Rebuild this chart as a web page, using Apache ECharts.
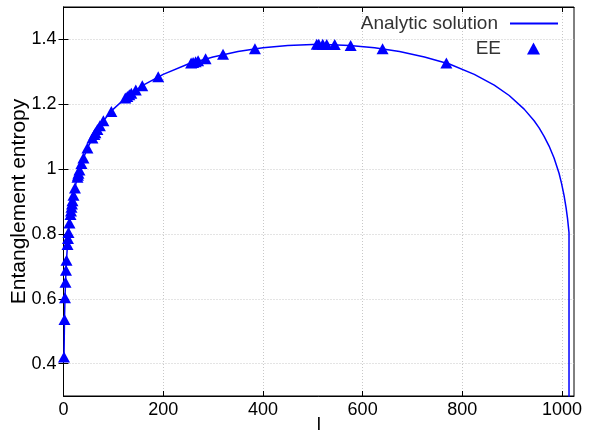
<!DOCTYPE html>
<html>
<head>
<meta charset="utf-8">
<script src="https://cdn.jsdelivr.net/npm/echarts@6/dist/echarts.min.js"></script>
<style>
  html, body { margin: 0; padding: 0; background: #fff; }
  #chart { width: 589px; height: 433px; }
</style>
</head>
<body>
<div id="chart"></div>
<script>
// analytic curve
var curveL = [1, 2, 3, 4, 6, 8, 10, 13, 16, 20, 25, 30, 40, 50, 60, 70, 80, 100, 130, 160,
  200, 250, 300, 350, 400, 450, 512, 574, 624, 674, 724, 774, 824, 864, 894, 924, 944,
  954, 964, 974, 984, 994, 999, 1004, 1008, 1011, 1014, 1014];
var curveS = [0.42, 0.536, 0.603, 0.651, 0.719, 0.767, 0.804, 0.848, 0.882, 0.919, 0.956,
  0.987, 1.034, 1.071, 1.101, 1.127, 1.149, 1.185, 1.227, 1.259, 1.292, 1.324, 1.346,
  1.363, 1.374, 1.381, 1.385, 1.381, 1.374, 1.363, 1.346, 1.324, 1.292, 1.259, 1.227,
  1.185, 1.149, 1.127, 1.101, 1.071, 1.034, 0.987, 0.956, 0.919, 0.882, 0.848, 0.804, 0.2];

// EE points
var eeL = [1, 2, 3, 4, 5, 6, 8, 9, 10, 12, 14, 15, 16, 17, 18, 20, 23, 28, 29, 30, 32, 36,
  40, 48, 58, 62, 64, 68, 73, 80, 96, 124, 128, 132, 136, 145, 158, 190, 256, 260, 265,
  270, 285, 320, 384, 508, 512, 520, 528, 544, 576, 640, 768];
var eeS = [0.42, 0.536, 0.603, 0.651, 0.688, 0.719, 0.767, 0.786, 0.804, 0.834, 0.86,
  0.871, 0.882, 0.892, 0.902, 0.919, 0.942, 0.975, 0.981, 0.987, 0.997, 1.017, 1.034,
  1.065, 1.096, 1.107, 1.112, 1.122, 1.134, 1.149, 1.178, 1.219, 1.224, 1.229, 1.234,
  1.244, 1.257, 1.285, 1.327, 1.329, 1.331, 1.334, 1.34, 1.354, 1.371, 1.385, 1.385,
  1.385, 1.384, 1.384, 1.381, 1.371, 1.327];

var xTicks = [0, 200, 400, 600, 800, 1000];
var yTicks = [0.4, 0.6, 0.8, 1, 1.2, 1.4];

function pairs(xs, ys) {
  return xs.map(function (x, i) { return [x, ys[i]]; });
}

var font = "'Liberation Sans', Arial, sans-serif";
var chart = echarts.init(document.getElementById("chart"));

var gridLine = { show: true, lineStyle: { color: "#c8c8c8", type: [1, 2], width: 1 } };

chart.setOption({
  animation: false,
  grid: {
    left: 63.5, right: 15, top: 7, bottom: 37,
    outerBoundsMode: "none", containLabel: false,
    show: true, borderColor: "#000", borderWidth: 1
  },
  legend: [
    {
      data: [{ name: "Analytic solution", icon: "rect" }],
      right: 26, top: 9, align: "right",
      itemWidth: 48, itemHeight: 2,
      textStyle: { fontFamily: font, fontSize: 19, color: "#333", padding: [0, 7, 0, 0] }
    },
    {
      data: [{ name: "EE", icon: "triangle" }],
      right: 44, top: 34, align: "right",
      itemWidth: 13, itemHeight: 12,
      textStyle: { fontFamily: font, fontSize: 19, color: "#333", padding: [0, 21, 0, 0] }
    }
  ],
  xAxis: [
    {
      type: "value", min: 0, max: 1024,
      name: "l", nameLocation: "middle", nameGap: 19, nameMoveOverlap: false,
      nameTextStyle: { fontFamily: font, fontSize: 19, color: "#000" },
      axisLine: { lineStyle: { color: "#000" } },
      axisTick: { inside: true, length: 5, lineStyle: { color: "#000" }, customValues: xTicks },
      axisLabel: {
        fontFamily: font, fontSize: 18, color: "#000", margin: 5, customValues: xTicks,
        formatter: function (v) { return String(v); }
      },
      splitLine: gridLine
    },
    {
      type: "value", min: 0, max: 1024, position: "top",
      axisLine: { lineStyle: { color: "#000" } },
      axisTick: { inside: true, length: 5, lineStyle: { color: "#000" }, customValues: xTicks },
      axisLabel: { show: false },
      splitLine: { show: false }
    }
  ],
  yAxis: [
    {
      type: "value", min: 0.3, max: 1.5,
      name: "Entanglement entropy", nameLocation: "middle", nameGap: 34, nameMoveOverlap: false,
      nameTextStyle: { fontFamily: font, fontSize: 21, color: "#000" },
      axisLine: { lineStyle: { color: "#000" } },
      axisTick: { inside: true, length: 5, lineStyle: { color: "#000" }, customValues: yTicks },
      axisLabel: {
        fontFamily: font, fontSize: 18, color: "#000", margin: 7, customValues: yTicks,
        formatter: function (v) { return String(v); }
      },
      splitLine: gridLine
    },
    {
      type: "value", min: 0.3, max: 1.5, position: "right",
      axisLine: { lineStyle: { color: "#000" } },
      axisTick: { inside: true, length: 5, lineStyle: { color: "#000" }, customValues: yTicks },
      axisLabel: { show: false },
      splitLine: { show: false }
    }
  ],
  series: [
    {
      name: "Analytic solution",
      type: "line",
      data: pairs(curveL, curveS),
      showSymbol: false,
      symbol: "none",
      clip: true,
      lineStyle: { color: "#0000ff", width: 1.5 },
      itemStyle: { color: "#0000ff" },
      z: 2
    },
    {
      name: "EE",
      type: "scatter",
      data: pairs(eeL, eeS),
      symbol: "triangle",
      symbolSize: [12, 11],
      itemStyle: { color: "#0000ff", opacity: 1 },
      z: 3
    }
  ]
});
</script>
</body>
</html>
